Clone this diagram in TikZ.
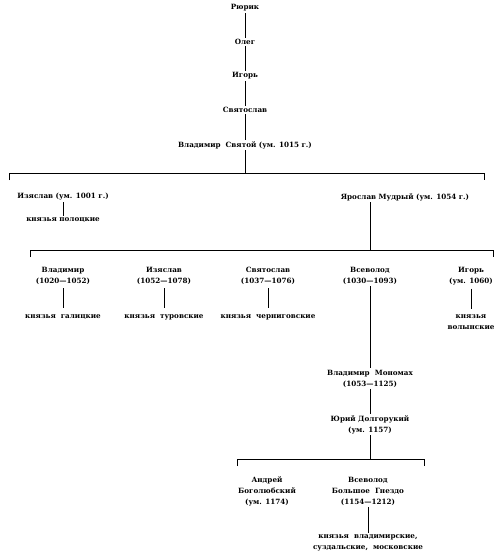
\documentclass[tikz,border=0pt]{standalone}
\usepackage{fontspec}
\setmainfont{DejaVu Serif}
\begin{document}
\begin{tikzpicture}[x=1pt,y=-1pt,
  nm/.style={inner sep=1.5pt,align=center,font=\fontsize{7.2}{11}\selectfont\bfseries},
  ln/.style={line width=0.9pt}]
\useasboundingbox (0,0) rectangle (500,560);
\node[nm] (rurik) at (245,8) {Рюрик};
\node[nm] (oleg) at (245,42) {Олег};
\node[nm] (igor) at (245,76) {Игорь};
\node[nm] (svyat) at (245,110) {Святослав};
\node[nm] (vlad) at (245,145) {Владимир\ \ Святой (ум. 1015 г.)};
\node[nm] (izy) at (63,197) {Изяслав (ум. 1001 г.)};
\node[nm] (polo) at (63,220) {князья полоцкие};
\node[nm] (yar) at (405,197) {Ярослав Мудрый (ум. 1054 г.)};
\node[nm] (vl2) at (63,276) {Владимир\\(1020—1052)};
\node[nm] (iz2) at (164,276) {Изяслав\\(1052—1078)};
\node[nm] (sv2) at (268,276) {Святослав\\(1037—1076)};
\node[nm] (vs2) at (370,276) {Всеволод\\(1030—1093)};
\node[nm] (ig2) at (471,276) {Игорь\\(ум. 1060)};
\node[nm] (gal) at (63,317) {князья\ \ галицкие};
\node[nm] (tur) at (164,317) {князья\ \ туровские};
\node[nm] (cher) at (268,317) {князья\ \ черниговские};
\node[nm] (vol) at (471,322.5) {князья\\волынские};
\node[nm] (mono) at (370,378.5) {Владимир\ \ Мономах\\(1053—1125)};
\node[nm] (yuri) at (370,424.5) {Юрий Долгорукий\\(ум. 1157)};
\node[nm] (andr) at (267,491) {Андрей\\Боголюбский\\(ум. 1174)};
\node[nm] (vs3) at (368,491) {Всеволод\\Большое\ \ Гнездо\\(1154—1212)};
\node[nm] (vlsu) at (368,542.5) {князья\ \ владимирские,\\суздальские,\ \ московские};
\coordinate (b1) at (245,173);
\coordinate (b1l) at (9,173);
\coordinate (b1r) at (484,173);
\coordinate (b2) at (370,250);
\coordinate (b2l) at (30,250);
\coordinate (b2r) at (493,250);
\coordinate (b3) at (370,459);
\coordinate (b3l) at (237,459);
\coordinate (b3r) at (424,459);
\draw[ln] (rurik) -- (oleg);
\draw[ln] (oleg) -- (igor);
\draw[ln] (igor) -- (svyat);
\draw[ln] (svyat) -- (vlad);
\draw[ln] (vlad.south -| b1) -- (b1);
\draw[ln] (b1l) ++(0,7) -- (b1l) -- (b1r) -- ++(0,7);
\draw[ln] (izy) -- (polo);
\draw[ln] (b2 |- yar.south) -- (b2);
\draw[ln] (b2l) ++(0,7) -- (b2l) -- (b2r) -- ++(0,7);
\draw[ln] (vl2.south) ++(0,2) -- ++(0,20);
\draw[ln] (iz2.south) ++(0,2) -- ++(0,20);
\draw[ln] (sv2.south) ++(0,2) -- ++(0,20);
\draw[ln] (ig2.south) ++(0,2) -- ++(0,20);
\draw[ln] (vs2) -- (mono);
\draw[ln] (mono) -- (yuri);
\draw[ln] (yuri.south -| b3) -- (b3);
\draw[ln] (b3l) ++(0,7) -- (b3l) -- (b3r) -- ++(0,7);
\draw[ln] (vs3) -- (vlsu);
\end{tikzpicture}
\end{document}
